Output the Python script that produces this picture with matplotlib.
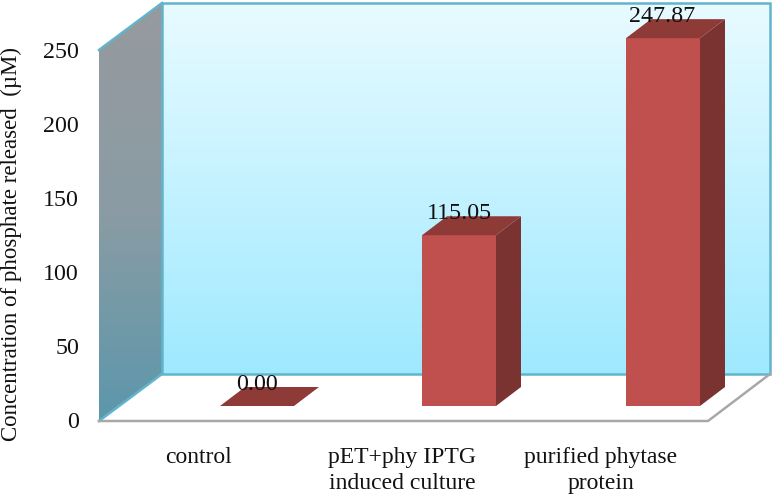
"""3D-look bar chart of phosphate released, drawn on one full-figure axes."""
import matplotlib
matplotlib.use("Agg")
import matplotlib.pyplot as plt
import numpy as np
from matplotlib.patches import Polygon

categories = ["control", "pET+phy IPTG\ninduced culture", "purified phytase\nprotein"]
values = [0.00, 115.05, 247.87]
value_labels = ["0.00", "115.05", "247.87"]
y_ticks = [0, 50, 100, 150, 200, 250]
y_label = "Concentration of phosphate released  (\u00b5M)"

W, H = 774, 496
PX_PER_UM = 1.484
Y0_PX = 421  # pixel row of value 0 on the front edge


def um(px):
    return px / PX_PER_UM


plt.rcParams["font.family"] = ["Liberation Serif", "DejaVu Serif"]
fig = plt.figure(figsize=(W / 100, H / 100), dpi=100)
ax = fig.add_axes([0, 0, 1, 1])
ax.set_xlim(0, W)
ax.set_ylim(um(Y0_PX - H), um(Y0_PX))
ax.axis("off")

# walls: front-left corner x, depth of the box
x_front, x_back, x_right = 99, 162, 770
box_dy = um(47)
top = 250

# back wall gradient
back_cmap = matplotlib.colors.LinearSegmentedColormap.from_list(
    "back", ["#E8FBFF", "#9FE9FF"])
ax.imshow(np.linspace(0, 1, 256).reshape(-1, 1), cmap=back_cmap, aspect="auto",
          extent=(x_back, x_right, box_dy, top + box_dy), zorder=1)
ax.add_patch(Polygon([(x_back, box_dy), (x_right, box_dy),
                      (x_right, top + box_dy), (x_back, top + box_dy)],
                     closed=True, fill=False, ec="#62B4CC", lw=1.8, zorder=2))

# left wall gradient, clipped to the slanted shape
left_cmap = matplotlib.colors.LinearSegmentedColormap.from_list(
    "left", ["#969A9E", "#8A9CA4", "#5C97AB"])
left_img = ax.imshow(np.linspace(0, 1, 256).reshape(-1, 1), cmap=left_cmap,
                     aspect="auto",
                     extent=(x_front, x_back, 0, top + box_dy), zorder=1)
left_wall = Polygon([(x_front, 0), (x_back, box_dy), (x_back, top + box_dy),
                     (x_front, top)], closed=True, transform=ax.transData,
                    fc="none", ec="none")
ax.add_patch(left_wall)
left_img.set_clip_path(left_wall)
ax.plot([x_front, x_back], [top, top + box_dy], color="#62B4CC", lw=1.8, zorder=2)
ax.plot([x_front, x_back], [0, box_dy], color="#62B4CC", lw=1.8, zorder=2)
ax.set_xlim(0, W)
ax.set_ylim(um(Y0_PX - H), um(Y0_PX))

# floor edges
ax.plot([x_front, 708, x_right], [0, 0, box_dy], color="#A8A8A8", lw=1.8,
        solid_joinstyle="miter", zorder=2)

# bars
bar_lefts = [220, 422, 626]
bar_w = 74
dx = 25
dy = um(19)
base = um(15)
for left, val in zip(bar_lefts, values):
    right = left + bar_w
    t = base + val
    if val > 0:
        ax.add_patch(Polygon([(left, base), (right, base), (right, t), (left, t)],
                             closed=True, fc="#C0504D", ec="none", zorder=3))
        ax.add_patch(Polygon([(right, base), (right + dx, base + dy),
                              (right + dx, t + dy), (right, t)],
                             closed=True, fc="#7A3330", ec="none", zorder=3))
    ax.add_patch(Polygon([(left, t), (right, t), (right + dx, t + dy),
                          (left + dx, t + dy)],
                         closed=True, fc="#8E3A37", ec="none", zorder=3))

# value labels
label_x = [257, 459, 662]
for x, val, txt in zip(label_x, values, value_labels):
    ax.text(x, base + val + um(22), txt, ha="center", va="center",
            fontsize=17.3, color="#111111", zorder=4)

# y ticks
for v in y_ticks:
    ax.text(79, v - um(2), str(v), ha="right", va="center", fontsize=17.3,
            color="#111111")

ax.text(11, um(Y0_PX - 244), y_label, rotation=90, ha="center", va="center",
        fontsize=16.5, color="#111111")

# category labels
cat_x = [199, 402, 601]
for x, cat in zip(cat_x, categories):
    ax.text(x, um(Y0_PX - 447), cat, ha="center", va="top", fontsize=17,
            linespacing=1.3, color="#111111")

fig.savefig("out.png", dpi=100)
